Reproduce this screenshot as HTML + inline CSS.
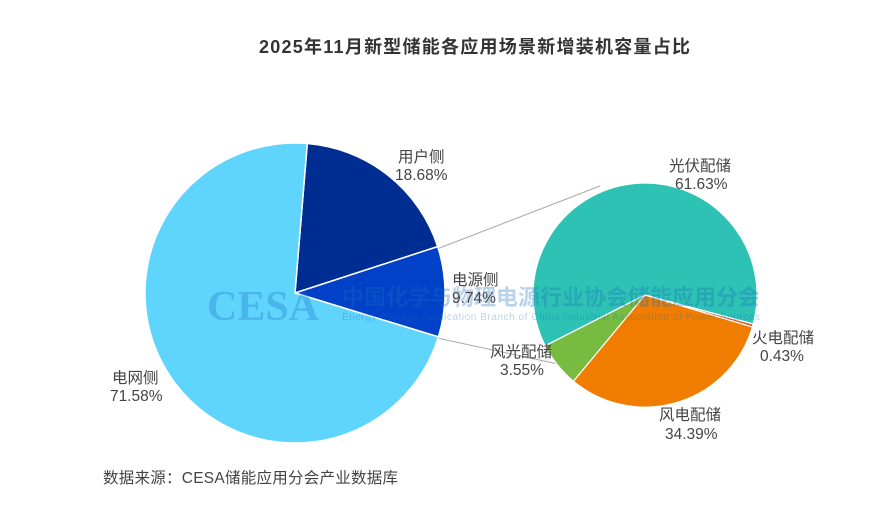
<!DOCTYPE html>
<html><head><meta charset="utf-8"><style>
body{margin:0;background:#fff;}
svg text{font-family:"Liberation Sans","Noto Sans CJK SC",sans-serif;}
</style></head><body>
<svg width="891" height="511" viewBox="0 0 891 511" xmlns="http://www.w3.org/2000/svg">
<rect width="891" height="511" fill="#fff"/>
<text x="259" y="53" textLength="431" font-size="18" font-weight="bold" fill="#333">2025年11月新型储能各应用场景新增装机容量占比</text>
<line x1="437" y1="249" x2="600" y2="186" stroke="#aaa" stroke-width="1"/>
<line x1="437" y1="338" x2="558" y2="364" stroke="#aaa" stroke-width="1"/>
<g stroke="#fff" stroke-width="1.5">
<path d="M295,293 L307.3,143.5 A150,150 0 0,1 437.7,246.6 Z" fill="#002d91"/>
<path d="M295,293 L437.7,246.6 A150,150 0 0,1 438.4,336.9 Z" fill="#0041c8"/>
<path d="M295,293 L438.4,336.9 A150,150 0 1,1 307.3,143.5 Z" fill="#5fd4fd"/>
</g>
<g stroke="#fff" stroke-width="1.2">
<path d="M645,295 L545.2,345.8 A112,112 0 1,1 753.2,324.0 Z" fill="#2ec2b4"/>
<path d="M645,295 L753.2,324.0 A112,112 0 0,1 752.4,327.0 Z" fill="#e8502a"/>
<path d="M645,295 L752.4,327.0 A112,112 0 0,1 573.4,381.2 Z" fill="#f07d00"/>
<path d="M645,295 L573.4,381.2 A112,112 0 0,1 545.2,345.8 Z" fill="#77bb41"/>
</g>
<g opacity="0.3">
<text x="207" y="320" font-size="42" fill="#1a6fc0" font-weight="bold" style="font-family:'Liberation Serif',serif">CESA</text>
<text x="342" y="305" textLength="418" font-size="22" fill="#1a6fc0" font-weight="bold">中国化学与物理电源行业协会储能应用分会</text>
<text x="342" y="320" textLength="418" font-size="10" fill="#1a6fc0">Energy Storage Application Branch of China Industrial Association of Power Sources</text>
</g>
<g font-size="15.5" fill="#444">
<text x="398" y="162">用户侧</text><text x="395" y="180">18.68%</text>
<text x="452" y="285">电源侧</text><text x="452" y="303">9.74%</text>
<text x="112" y="383">电网侧</text><text x="110" y="401">71.58%</text>
<text x="669" y="171">光伏配储</text><text x="675" y="189">61.63%</text>
<text x="752" y="343">火电配储</text><text x="760" y="361">0.43%</text>
<text x="490" y="357">风光配储</text><text x="500" y="375">3.55%</text>
<text x="659" y="420">风电配储</text><text x="665" y="439">34.39%</text>
<text x="103" y="483" textLength="295">数据来源：CESA储能应用分会产业数据库</text>
</g>
</svg>
</body></html>
